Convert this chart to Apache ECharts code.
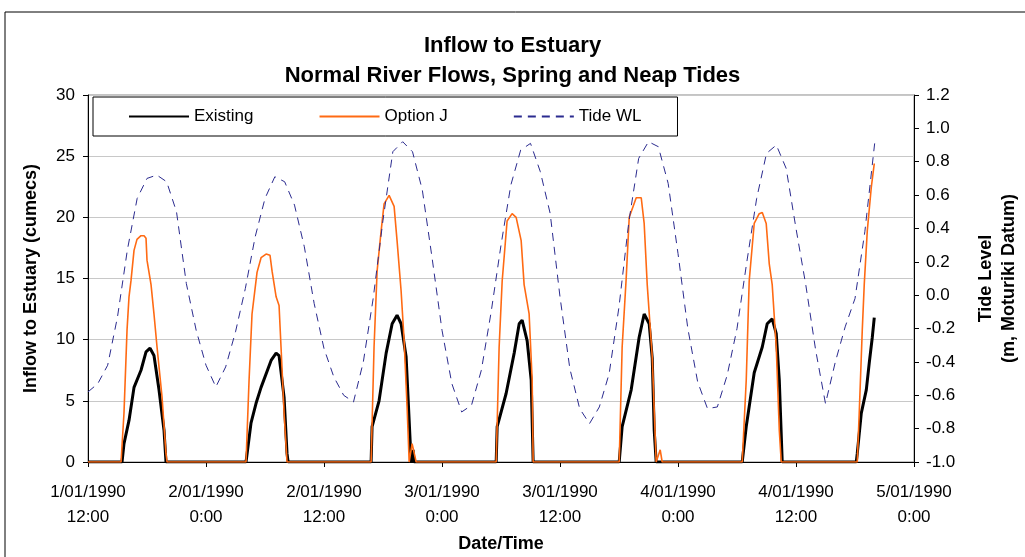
<!DOCTYPE html>
<html>
<head>
<meta charset="utf-8">
<title>Inflow to Estuary</title>
<script src="https://cdn.jsdelivr.net/npm/echarts@6/dist/echarts.min.js"></script>
<style>
  html, body { margin: 0; padding: 0; background: #fff; }
  #main { width: 1025px; height: 557px; }
</style>
</head>
<body>
<div id="main"></div>
<script>
// hours after 1/01/1990 12:00
var existingHours = [0, 3.46, 3.66, 4.17, 4.68, 5.39, 5.90, 6.31, 6.71, 7.22, 7.73, 7.93,
  16.07, 16.58, 17.09, 17.60, 18.62, 19.13, 19.43, 19.94, 20.24, 20.35,
  28.79, 28.89, 29.60, 30.32, 30.93, 31.43, 31.84, 32.35, 32.66, 32.86, 33.06, 33.16,
  41.51, 41.61, 42.52, 43.34, 43.85, 44.15, 44.66, 45.07, 45.27,
  54.02, 54.32, 55.24, 56.05, 56.56, 57.07, 57.38, 57.58, 57.78,
  66.53, 66.94, 67.75, 68.57, 69.07, 69.58, 69.99, 70.30, 70.60,
  78.13, 78.23, 78.64, 79.15, 79.45, 79.76, 79.96];
var existingFlow = [0, 0, 1.5, 3.4, 6.1, 7.5, 9.0, 9.3, 8.7, 5.9, 2.6, 0,
  0, 3.2, 4.8, 6.1, 8.3, 8.9, 8.7, 5.3, 0.7, 0,
  0, 2.9, 5.0, 8.9, 11.3, 12.0, 11.3, 8.6, 3.4, 0, 1.0, 0,
  0, 2.9, 5.6, 8.9, 11.3, 11.6, 9.9, 6.7, 0,
  0, 2.9, 5.9, 10.2, 12.1, 11.3, 8.5, 2.6, 0,
  0, 2.9, 7.3, 9.4, 11.3, 11.7, 10.5, 6.7, 0,
  0, 0.7, 4.0, 5.9, 8.1, 10.2, 11.8];

var optionHours = [0, 3.36, 3.66, 3.97, 4.17, 4.37, 4.68, 4.98, 5.39, 5.70, 5.90, 6.00, 6.41, 6.71, 7.02, 7.53, 7.93, 8.04,
  16.07, 16.38, 16.68, 17.19, 17.60, 18.11, 18.51, 18.72, 19.13, 19.43, 19.63, 19.94, 20.24,
  28.79, 29.09, 29.40, 29.81, 30.11, 30.62, 31.13, 31.43, 31.84, 32.15, 32.45, 32.66, 32.96, 33.16, 33.37,
  41.51, 41.81, 42.12, 42.62, 43.13, 43.54, 44.05, 44.35, 44.86, 45.17, 45.27,
  54.02, 54.32, 54.73, 55.04, 55.75, 56.26, 56.56, 56.87, 57.38, 57.78, 58.19, 58.39,
  66.53, 66.94, 67.24, 67.75, 68.26, 68.57, 68.97, 69.28, 69.58, 69.99, 70.30, 70.50,
  78.23, 78.43, 78.74, 78.94, 79.25, 79.65, 79.96];
var optionFlow = [0, 0, 4.0, 10.8, 13.5, 14.8, 17.3, 18.2, 18.5, 18.5, 18.3, 16.5, 14.5, 12.1, 9.4, 5.3, 0.7, 0,
  0, 6.7, 12.1, 15.5, 16.7, 17.0, 16.9, 15.6, 13.5, 12.8, 9.4, 4.0, 0,
  0, 9.4, 15.6, 18.9, 21.1, 21.8, 20.9, 18.1, 14.0, 9.9, 4.5, 0, 1.5, 1.6, 0,
  0, 9.4, 14.8, 19.7, 20.3, 20.0, 18.1, 14.5, 12.1, 6.7, 0,
  0, 9.4, 15.0, 20.0, 21.6, 21.6, 19.5, 14.5, 8.6, 0, 1.0, 0,
  0, 6.7, 14.8, 19.5, 20.3, 20.4, 19.5, 16.2, 14.5, 9.4, 2.6, 0,
  0, 4.0, 10.8, 14.5, 18.9, 22.4, 24.4];

// hourly tide, hours 0..80
var tideWL = [-0.58, -0.53, -0.42, -0.13, 0.27, 0.58, 0.70, 0.72, 0.68, 0.50,
  0.07, -0.21, -0.42, -0.55, -0.43, -0.22, 0.04, 0.35, 0.58, 0.71,
  0.68, 0.54, 0.29, -0.05, -0.32, -0.49, -0.60, -0.64, -0.40, -0.02,
  0.45, 0.86, 0.92, 0.86, 0.63, 0.22, -0.21, -0.53, -0.70, -0.66,
  -0.45, -0.10, 0.30, 0.66, 0.87, 0.91, 0.74, 0.49, -0.01, -0.44,
  -0.68, -0.77, -0.67, -0.47, -0.07, 0.44, 0.82, 0.92, 0.89, 0.67,
  0.25, -0.20, -0.52, -0.68, -0.67, -0.48, -0.20, 0.20, 0.58, 0.85,
  0.90, 0.76, 0.40, 0.06, -0.33, -0.65, -0.40, -0.19, -0.02, 0.38,
  0.91];

function pairs(xs, ys) {
  return ys.map(function (v, i) { return [xs[i], v]; });
}

function timeLabel(h) {
  var t = 12 + h;
  var day = 1 + Math.floor(t / 24);
  var hr = t % 24;
  return day + '/01/1990\n' + hr + ':00';
}

var chart = echarts.init(document.getElementById('main'));

var font = 'Arial, "Liberation Sans", sans-serif';

var option = {
  backgroundColor: '#fff',
  animation: false,
  textStyle: { fontFamily: font },
  graphic: [{
    type: 'rect',
    shape: { x: 5, y: 12, width: 1040, height: 560 },
    style: { fill: 'none', stroke: '#000', lineWidth: 1 },
    silent: true
  }],
  title: {
    text: 'Inflow to Estuary\nNormal River Flows, Spring and Neap Tides',
    left: 'center',
    top: 26,
    textStyle: { fontSize: 22, fontWeight: 'bold', color: '#000', lineHeight: 30, fontFamily: font }
  },
  legend: {
    left: 93,
    top: 97,
    padding: [11, 36, 11, 35],
    itemGap: 65,
    itemWidth: 60,
    itemHeight: 14,
    borderColor: '#000',
    borderWidth: 1,
    backgroundColor: '#fff',
    itemStyle: { opacity: 0 },
    textStyle: { fontSize: 17, color: '#000', fontFamily: font },
    data: ['Existing', 'Option J', 'Tide WL']
  },
  grid: {
    left: 88,
    right: 111,
    top: 95,
    bottom: 95,
    outerBoundsMode: 'none',
    containLabel: false,
    show: true,
    borderColor: '#888',
    borderWidth: 1
  },
  xAxis: {
    type: 'value',
    min: 0,
    max: 84,
    interval: 12,
    name: 'Date/Time',
    nameLocation: 'middle',
    nameGap: 72,
    nameTextStyle: { fontSize: 18, fontWeight: 'bold', color: '#000' },
    axisLine: { onZero: false, lineStyle: { color: '#000', width: 1 } },
    axisTick: { length: 5, lineStyle: { color: '#000' } },
    axisLabel: {
      fontSize: 17,
      color: '#000',
      lineHeight: 25,
      margin: 18,
      formatter: timeLabel
    },
    splitLine: { show: false }
  },
  yAxis: [{
    type: 'value',
    min: 0,
    max: 30,
    interval: 5,
    name: 'Inflow to Estuary (cumecs)',
    nameLocation: 'middle',
    nameGap: 48,
    nameTextStyle: { fontSize: 18, fontWeight: 'bold', color: '#000' },
    axisLine: { show: true, lineStyle: { color: '#000' } },
    axisTick: { show: true, length: 5, lineStyle: { color: '#000' } },
    axisLabel: { fontSize: 17, color: '#000', margin: 13 },
    splitLine: { show: true, lineStyle: { color: '#c8c8c8', width: 1 } }
  }, {
    type: 'value',
    position: 'right',
    min: -1.0,
    max: 1.2,
    interval: 0.2,
    name: 'Tide Level\n(m, Moturiki Datum)',
    nameLocation: 'middle',
    nameRotate: 90,
    nameGap: 61,
    nameTextStyle: { fontSize: 18, fontWeight: 'bold', color: '#000', lineHeight: 23 },
    axisLine: { show: true, lineStyle: { color: '#000' } },
    axisTick: { show: true, length: 5, lineStyle: { color: '#000' } },
    axisLabel: {
      fontSize: 17,
      color: '#000',
      margin: 12,
      formatter: function (v) { return v.toFixed(1); }
    },
    splitLine: { show: false }
  }],
  series: [{
    name: 'Existing',
    type: 'line',
    data: pairs(existingHours, existingFlow),
    showSymbol: false,
    symbol: 'none',
    color: '#000',
    lineStyle: { color: '#000', width: 3 }
  }, {
    name: 'Option J',
    type: 'line',
    data: pairs(optionHours, optionFlow),
    showSymbol: false,
    symbol: 'none',
    color: '#ff6a13',
    lineStyle: { color: '#ff6a13', width: 1.6 }
  }, {
    name: 'Tide WL',
    type: 'line',
    yAxisIndex: 1,
    data: tideWL.map(function (v, i) { return [i, v]; }),
    showSymbol: false,
    symbol: 'none',
    color: '#2b2b8f',
    lineStyle: { color: '#2b2b8f', width: 1, type: [8, 6] }
  }]
};

chart.setOption(option);
</script>
</body>
</html>
